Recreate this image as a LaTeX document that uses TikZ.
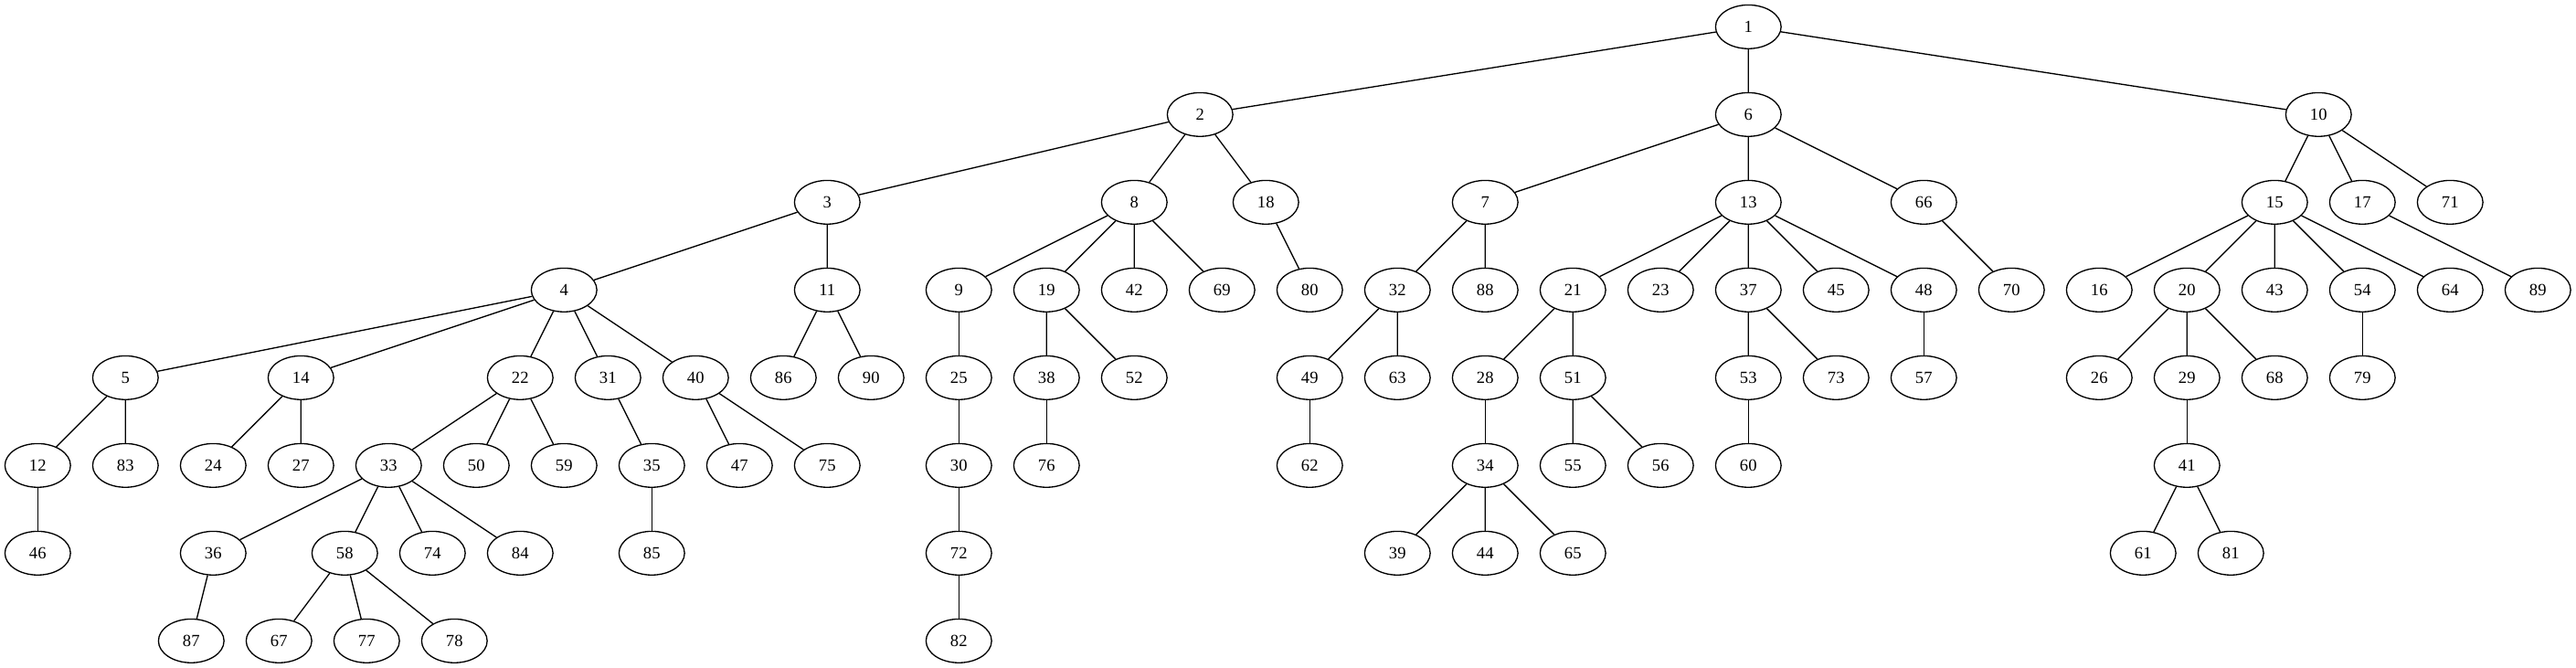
\documentclass[tikz,border=0pt]{standalone}
\usepackage{fontspec}
\setmainfont{Liberation Serif}
\usetikzlibrary{shapes.geometric}

\begin{document}
\begin{tikzpicture}[x=1in, y=1in,
    tnode/.style={ellipse, draw, line width=1pt, minimum width=54pt, minimum height=36pt, inner sep=0pt, font=\fontsize{14}{16}\selectfont},
    edge/.style={line width=1pt}
]
% canvas
\fill[white] (0,0.3056) rectangle (29.365,-7.3056);
\useasboundingbox (0,0.3056) rectangle (29.365,-7.3056);

% rank 0 and 1
\node[tnode] (n1) at (19.93,0) {1};
\node[tnode] (n2) at (13.68,-1) {2};
\node[tnode] (n6) at (19.93,-1) {6};
\node[tnode] (n10) at (26.43,-1) {10};

% rank 2
\node[tnode] (n3) at (9.43,-2) {3};
\node[tnode] (n8) at (12.93,-2) {8};
\node[tnode] (n18) at (14.43,-2) {18};
\node[tnode] (n7) at (16.93,-2) {7};
\node[tnode] (n13) at (19.93,-2) {13};
\node[tnode] (n66) at (21.93,-2) {66};
\node[tnode] (n15) at (25.93,-2) {15};
\node[tnode] (n17) at (26.93,-2) {17};
\node[tnode] (n71) at (27.93,-2) {71};

% rank 3
\node[tnode] (n4) at (6.43,-3) {4};
\node[tnode] (n11) at (9.43,-3) {11};
\node[tnode] (n9) at (10.93,-3) {9};
\node[tnode] (n19) at (11.93,-3) {19};
\node[tnode] (n42) at (12.93,-3) {42};
\node[tnode] (n69) at (13.93,-3) {69};
\node[tnode] (n80) at (14.93,-3) {80};
\node[tnode] (n32) at (15.93,-3) {32};
\node[tnode] (n88) at (16.93,-3) {88};
\node[tnode] (n21) at (17.93,-3) {21};
\node[tnode] (n23) at (18.93,-3) {23};
\node[tnode] (n37) at (19.93,-3) {37};
\node[tnode] (n45) at (20.93,-3) {45};
\node[tnode] (n48) at (21.93,-3) {48};
\node[tnode] (n70) at (22.93,-3) {70};
\node[tnode] (n16) at (23.93,-3) {16};
\node[tnode] (n20) at (24.93,-3) {20};
\node[tnode] (n43) at (25.93,-3) {43};
\node[tnode] (n54) at (26.93,-3) {54};
\node[tnode] (n64) at (27.93,-3) {64};
\node[tnode] (n89) at (28.93,-3) {89};

% rank 4
\node[tnode] (n5) at (1.43,-4) {5};
\node[tnode] (n14) at (3.43,-4) {14};
\node[tnode] (n22) at (5.93,-4) {22};
\node[tnode] (n31) at (6.93,-4) {31};
\node[tnode] (n40) at (7.93,-4) {40};
\node[tnode] (n86) at (8.93,-4) {86};
\node[tnode] (n90) at (9.93,-4) {90};
\node[tnode] (n25) at (10.93,-4) {25};
\node[tnode] (n38) at (11.93,-4) {38};
\node[tnode] (n52) at (12.93,-4) {52};
\node[tnode] (n49) at (14.93,-4) {49};
\node[tnode] (n63) at (15.93,-4) {63};
\node[tnode] (n28) at (16.93,-4) {28};
\node[tnode] (n51) at (17.93,-4) {51};
\node[tnode] (n53) at (19.93,-4) {53};
\node[tnode] (n73) at (20.93,-4) {73};
\node[tnode] (n57) at (21.93,-4) {57};
\node[tnode] (n26) at (23.93,-4) {26};
\node[tnode] (n29) at (24.93,-4) {29};
\node[tnode] (n68) at (25.93,-4) {68};
\node[tnode] (n79) at (26.93,-4) {79};

% rank 5
\node[tnode] (n12) at (0.43,-5) {12};
\node[tnode] (n83) at (1.43,-5) {83};
\node[tnode] (n24) at (2.43,-5) {24};
\node[tnode] (n27) at (3.43,-5) {27};
\node[tnode] (n33) at (4.43,-5) {33};
\node[tnode] (n50) at (5.43,-5) {50};
\node[tnode] (n59) at (6.43,-5) {59};
\node[tnode] (n35) at (7.43,-5) {35};
\node[tnode] (n47) at (8.43,-5) {47};
\node[tnode] (n75) at (9.43,-5) {75};
\node[tnode] (n30) at (10.93,-5) {30};
\node[tnode] (n76) at (11.93,-5) {76};
\node[tnode] (n62) at (14.93,-5) {62};
\node[tnode] (n34) at (16.93,-5) {34};
\node[tnode] (n55) at (17.93,-5) {55};
\node[tnode] (n56) at (18.93,-5) {56};
\node[tnode] (n60) at (19.93,-5) {60};
\node[tnode] (n41) at (24.93,-5) {41};

% rank 6
\node[tnode] (n46) at (0.43,-6) {46};
\node[tnode] (n36) at (2.43,-6) {36};
\node[tnode] (n58) at (3.93,-6) {58};
\node[tnode] (n74) at (4.93,-6) {74};
\node[tnode] (n84) at (5.93,-6) {84};
\node[tnode] (n85) at (7.43,-6) {85};
\node[tnode] (n72) at (10.93,-6) {72};
\node[tnode] (n39) at (15.93,-6) {39};
\node[tnode] (n44) at (16.93,-6) {44};
\node[tnode] (n65) at (17.93,-6) {65};
\node[tnode] (n61) at (24.43,-6) {61};
\node[tnode] (n81) at (25.43,-6) {81};

% rank 7
\node[tnode] (n87) at (2.18,-7) {87};
\node[tnode] (n67) at (3.18,-7) {67};
\node[tnode] (n77) at (4.18,-7) {77};
\node[tnode] (n78) at (5.18,-7) {78};
\node[tnode] (n82) at (10.93,-7) {82};

% edges, one line per parent
\draw[edge] (n1) -- (n2) (n1) -- (n6) (n1) -- (n10);
\draw[edge] (n2) -- (n3) (n2) -- (n8) (n2) -- (n18);
\draw[edge] (n6) -- (n7) (n6) -- (n13) (n6) -- (n66);
\draw[edge] (n10) -- (n15) (n10) -- (n17) (n10) -- (n71);
\draw[edge] (n3) -- (n4) (n3) -- (n11);
\draw[edge] (n8) -- (n9) (n8) -- (n19) (n8) -- (n42) (n8) -- (n69);
\draw[edge] (n18) -- (n80);
\draw[edge] (n7) -- (n32) (n7) -- (n88);
\draw[edge] (n13) -- (n21) (n13) -- (n23) (n13) -- (n37) (n13) -- (n45) (n13) -- (n48);
\draw[edge] (n66) -- (n70);
\draw[edge] (n15) -- (n16) (n15) -- (n20) (n15) -- (n43) (n15) -- (n54) (n15) -- (n64);
\draw[edge] (n17) -- (n89);
\draw[edge] (n4) -- (n5) (n4) -- (n14) (n4) -- (n22) (n4) -- (n31) (n4) -- (n40);
\draw[edge] (n11) -- (n86) (n11) -- (n90);
\draw[edge] (n9) -- (n25);
\draw[edge] (n19) -- (n38) (n19) -- (n52);
\draw[edge] (n32) -- (n49) (n32) -- (n63);
\draw[edge] (n21) -- (n28) (n21) -- (n51);
\draw[edge] (n37) -- (n53) (n37) -- (n73);
\draw[edge] (n48) -- (n57);
\draw[edge] (n20) -- (n26) (n20) -- (n29) (n20) -- (n68);
\draw[edge] (n54) -- (n79);
\draw[edge] (n5) -- (n12) (n5) -- (n83);
\draw[edge] (n14) -- (n24) (n14) -- (n27);
\draw[edge] (n22) -- (n33) (n22) -- (n50) (n22) -- (n59);
\draw[edge] (n31) -- (n35);
\draw[edge] (n40) -- (n47) (n40) -- (n75);
\draw[edge] (n25) -- (n30);
\draw[edge] (n38) -- (n76);
\draw[edge] (n49) -- (n62);
\draw[edge] (n28) -- (n34);
\draw[edge] (n51) -- (n55) (n51) -- (n56);
\draw[edge] (n53) -- (n60);
\draw[edge] (n29) -- (n41);
\draw[edge] (n12) -- (n46);
\draw[edge] (n33) -- (n36) (n33) -- (n58) (n33) -- (n74) (n33) -- (n84);
\draw[edge] (n35) -- (n85);
\draw[edge] (n30) -- (n72);
\draw[edge] (n34) -- (n39) (n34) -- (n44) (n34) -- (n65);
\draw[edge] (n41) -- (n61) (n41) -- (n81);
\draw[edge] (n36) -- (n87);
\draw[edge] (n58) -- (n67) (n58) -- (n77) (n58) -- (n78);
\draw[edge] (n72) -- (n82);

\end{tikzpicture}
\end{document}
